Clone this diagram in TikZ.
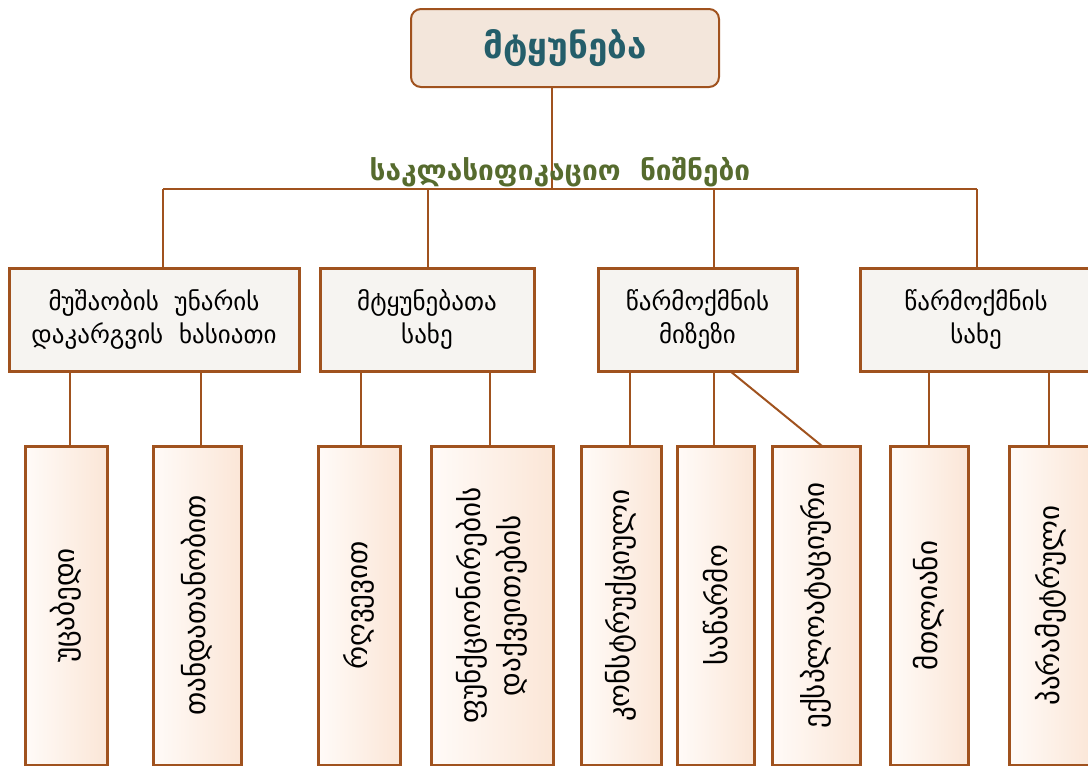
\documentclass[tikz,border=0pt]{standalone}
\usepackage{fontspec}
\setmainfont{DejaVu Sans}
\definecolor{brn}{HTML}{A0521E}
\definecolor{topfill}{HTML}{F3E6DB}
\definecolor{teal}{HTML}{245E6A}
\definecolor{olive}{HTML}{566B2E}
\definecolor{midfill}{HTML}{F6F4F1}
\definecolor{lowL}{HTML}{FFFBF8}
\definecolor{lowR}{HTML}{FBE6D7}
\begin{document}
\begin{tikzpicture}[x=1pt,y=-1pt,
  conn/.style={draw=brn,line width=2pt},
  topbox/.style={draw=brn,line width=2pt,fill=topfill,rounded corners=10pt,
     minimum width=308pt,minimum height=78pt,inner sep=0pt,
     font=\fontsize{35}{40}\selectfont\bfseries,text=teal},
  midbox/.style={draw=brn,line width=3pt,fill=midfill,minimum height=103pt,
     inner sep=0pt,align=center,font=\fontsize{25}{33}\selectfont},
  lowbox/.style={draw=brn,line width=3pt,left color=lowL,right color=lowR,
     minimum height=319pt,inner sep=0pt},
  lowtext/.style={rotate=90,align=center,font=\fontsize{29}{40}\selectfont}]
\useasboundingbox (0,0) rectangle (1088,766);
\clip (0,0) rectangle (1088,766);
% top
\node[topbox] (top) at (565,48) {მტყუნება};
% second level
\node[midbox,minimum width=290pt] (n1) at (154,319.5) {მუშაობის~~უნარის\\დაკარგვის~~ხასიათი};
\node[midbox,minimum width=214pt] (n2) at (427,319.5) {მტყუნებათა\\სახე};
\node[midbox,minimum width=199pt] (n3) at (697.5,319.5) {წარმოქმნის\\მიზეზი};
\node[midbox,minimum width=232pt] (n4) at (976,319.5) {წარმოქმნის\\სახე};
% bus
\coordinate (t0) at (552,189);
\coordinate (b1) at (163,189);
\coordinate (b2) at (428,189);
\coordinate (b3) at (714,189);
\coordinate (b4) at (977,189);
\draw[conn] (t0 |- top.south) -- (t0);
\draw[conn] (b1) -- (b4);
\draw[conn] (b1) -- (b1 |- n1.north);
\draw[conn] (b2) -- (b2 |- n2.north);
\draw[conn] (b3) -- (b3 |- n3.north);
\draw[conn] (b4) -- (b4 |- n4.north);
\node[text=olive,font=\fontsize{28}{32}\selectfont\bfseries] (lbl) at (560,172) {საკლასიფიკაციო~~ნიშნები};
% third level
\node[lowbox,minimum width=82pt] (a) at (66,605.5) {};
\node[lowbox,minimum width=88pt] (b) at (197,605.5) {};
\node[lowbox,minimum width=82pt] (c) at (359,605.5) {};
\node[lowbox,minimum width=122pt] (d) at (492,605.5) {};
\node[lowbox,minimum width=80pt] (e) at (621,605.5) {};
\node[lowbox,minimum width=77pt] (f) at (715.5,605.5) {};
\node[lowbox,minimum width=88pt] (g) at (816,605.5) {};
\node[lowbox,minimum width=78pt] (h) at (929,605.5) {};
\node[lowbox,minimum width=83pt] (i) at (1050.5,605.5) {};
\node[lowtext] at (a) {უცაბედი};
\node[lowtext] at (b) {თანდათანობით};
\node[lowtext] at (c) {რღვევით};
\node[lowtext] at (d) {ფუნქციონირების\\დაქვეითების};
\node[lowtext] at (e) {კონსტრუქციული};
\node[lowtext] at (f) {საწარმო};
\node[lowtext] at (g) {ექსპლოატაციური};
\node[lowtext] at (h) {მთლიანი};
\node[lowtext] at (i) {პარამეტრული};
% connectors to third level
\draw[conn] ([xshift=4pt]a.north) -- ([xshift=4pt]a.north |- n1.south);
\draw[conn] ([xshift=4pt]b.north) -- ([xshift=4pt]b.north |- n1.south);
\draw[conn] ([xshift=2pt]c.north) -- ([xshift=2pt]c.north |- n2.south);
\draw[conn] ([xshift=-2pt]d.north) -- ([xshift=-2pt]d.north |- n2.south);
\draw[conn] ([xshift=9pt]e.north) -- ([xshift=9pt]e.north |- n3.south);
\draw[conn] ([xshift=-2pt]f.north) -- ([xshift=-2pt]f.north |- n3.south);
\coordinate (gs) at (730,371);
\draw[conn] (gs) -- (822,446);
\draw[conn] (h.north) -- (h.north |- n4.south);
\draw[conn] ([xshift=-1.5pt]i.north) -- ([xshift=-1.5pt]i.north |- n4.south);
\end{tikzpicture}
\end{document}
